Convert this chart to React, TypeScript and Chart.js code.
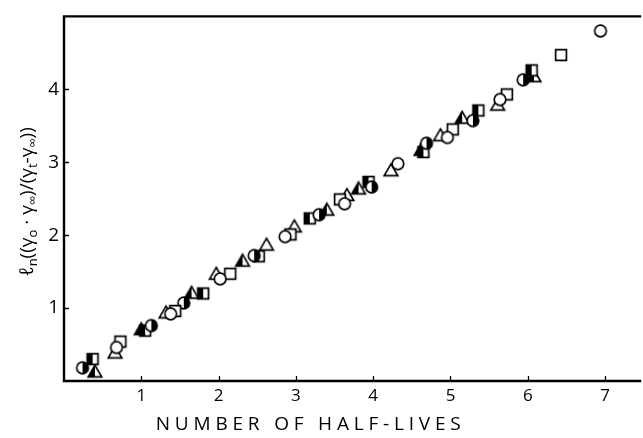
import React, { useEffect, useRef } from 'react';
import { Chart, registerables } from 'chart.js';

Chart.register(...registerables);

// Axis ticks and ranges
const X_TICKS = [1, 2, 3, 4, 5, 6, 7];
const Y_TICKS = [1, 2, 3, 4];
const X_MIN = 0;
const X_MAX = 7.4;
const Y_MIN = 0;
const Y_MAX = 5;

const X_TITLE = 'NUMBER OF HALF-LIVES';

// Open circles
const openCircleX = [0.68, 1.38, 2.02, 2.86, 3.63, 4.32, 4.96, 5.64, 6.94];
const openCircleY = [0.46, 0.92, 1.4, 1.98, 2.43, 2.98, 3.34, 3.86, 4.8];

// Open squares
const openSquareX = [0.73, 1.44, 2.15, 2.93, 3.57, 5.03, 5.73, 6.43];
const openSquareY = [0.54, 0.96, 1.47, 2.01, 2.49, 3.45, 3.93, 4.47];

// Open triangles
const openTriangleX = [0.66, 1.32, 1.97, 2.62, 2.98, 3.66, 4.23, 4.87, 5.61];
const openTriangleY = [0.39, 0.94, 1.47, 1.87, 2.12, 2.55, 2.89, 3.37, 3.79];

// Half-filled circles
const halfCircleX = [0.24, 1.13, 1.55, 2.46, 3.3, 3.98, 4.69, 5.29, 5.94];
const halfCircleY = [0.18, 0.76, 1.07, 1.72, 2.28, 2.66, 3.26, 3.57, 4.13];

// Half-filled squares
const halfSquareX = [0.37, 1.05, 1.8, 2.52, 3.18, 3.94, 4.65, 5.36, 6.05];
const halfSquareY = [0.3, 0.69, 1.2, 1.71, 2.23, 2.73, 3.14, 3.71, 4.26];

// Half-filled triangles
const halfTriangleX = [0.4, 1.0, 1.65, 2.31, 3.4, 3.81, 4.62, 5.15, 6.08];
const halfTriangleY = [0.13, 0.71, 1.21, 1.65, 2.35, 2.64, 3.17, 3.61, 4.18];

const FONT = '"Open Sans", "DejaVu Sans", sans-serif';

type Kind = 'circle' | 'square' | 'triangle';
type Half = 'none' | 'left' | 'right';

function makeMarker(kind: Kind, half: Half): HTMLCanvasElement {
  const size = 18;
  const c = size / 2;
  const cv = document.createElement('canvas');
  cv.width = size;
  cv.height = size;
  const ctx = cv.getContext('2d')!;
  const path = new Path2D();
  if (kind === 'circle') {
    path.arc(c, c, 5.8, 0, Math.PI * 2);
  } else if (kind === 'square') {
    path.rect(c - 5.4, c - 5.4, 10.8, 10.8);
  } else {
    path.moveTo(c, c - 6.4);
    path.lineTo(c + 6.8, c + 5.3);
    path.lineTo(c - 6.8, c + 5.3);
    path.closePath();
  }
  ctx.fillStyle = '#fff';
  ctx.fill(path);
  if (half !== 'none') {
    ctx.save();
    ctx.beginPath();
    if (half === 'left') ctx.rect(0, 0, c, size);
    else ctx.rect(c, 0, c, size);
    ctx.clip();
    ctx.fillStyle = '#000';
    ctx.fill(path);
    ctx.restore();
  }
  ctx.strokeStyle = '#000';
  ctx.lineWidth = 1.7;
  ctx.lineJoin = 'miter';
  ctx.stroke(path);
  return cv;
}

function zip(xs: number[], ys: number[]) {
  return xs.map((x, i) => ({ x, y: ys[i] }));
}

// Frame, inward tick marks and axis titles
const framePlugin = {
  id: 'frame',
  afterDraw(chart: any) {
    const { ctx, chartArea: a, scales } = chart;
    ctx.save();
    ctx.strokeStyle = '#000';
    ctx.lineWidth = 2.4;
    ctx.lineCap = 'square';
    ctx.beginPath();
    ctx.moveTo(a.right + 4, a.top);
    ctx.lineTo(a.left, a.top);
    ctx.lineTo(a.left, a.bottom);
    ctx.lineTo(a.right + 4, a.bottom);
    ctx.stroke();

    ctx.lineWidth = 1.3;
    ctx.lineCap = 'butt';
    ctx.beginPath();
    for (const v of X_TICKS) {
      const px = Math.round(scales.x.getPixelForValue(v)) + 0.5;
      ctx.moveTo(px, a.bottom);
      ctx.lineTo(px, a.bottom - 5);
    }
    for (const v of Y_TICKS) {
      const py = Math.round(scales.y.getPixelForValue(v)) + 0.5;
      ctx.moveTo(a.left, py);
      ctx.lineTo(a.left + 5, py);
    }
    ctx.stroke();

    // x-axis title
    ctx.fillStyle = '#000';
    ctx.font = `400 19px ${FONT}`;
    ctx.textBaseline = 'middle';
    ctx.textAlign = 'center';
    const target = 305;
    (ctx as any).letterSpacing = '0px';
    const w0 = ctx.measureText(X_TITLE).width;
    const sp = Math.max(0, (target - w0) / (X_TITLE.length - 1));
    (ctx as any).letterSpacing = `${sp}px`;
    const cx = a.left + (a.right - a.left) * 0.427 + sp / 2;
    ctx.fillText(X_TITLE, cx, 425);
    (ctx as any).letterSpacing = '0px';

    // y-axis title with subscripts
    const segs: { t: string; sub?: boolean }[] = [
      { t: 'ℓ' }, { t: 'n', sub: true }, { t: '((' }, { t: 'γ' }, { t: 'o', sub: true },
      { t: ' · ' }, { t: 'γ' }, { t: '∞', sub: true }, { t: ')/(' }, { t: 'γ' },
      { t: 't', sub: true }, { t: '-' }, { t: 'γ' }, { t: '∞', sub: true }, { t: '))' },
    ];
    const mainFont = `400 19px ${FONT}`;
    const subFont = `400 13px ${FONT}`;
    let total = 0;
    const widths = segs.map((s) => {
      ctx.font = s.sub ? subFont : mainFont;
      const w = ctx.measureText(s.t).width;
      total += w;
      return w;
    });
    const ty = (a.top + a.bottom) / 2 + 3;
    ctx.translate(28, ty);
    ctx.rotate(-Math.PI / 2);
    ctx.textAlign = 'left';
    ctx.textBaseline = 'middle';
    let x = -total / 2;
    segs.forEach((s, i) => {
      ctx.font = s.sub ? subFont : mainFont;
      ctx.fillText(s.t, x, s.sub ? 5 : 0);
      x += widths[i];
    });
    ctx.restore();
  },
};

export default function App() {
  const ref = useRef<HTMLCanvasElement | null>(null);

  useEffect(() => {
    document.body.style.margin = '0';
    const canvas = ref.current;
    if (!canvas) return;

    const mk = (label: string, xs: number[], ys: number[], kind: Kind, half: Half) => ({
      label,
      data: zip(xs, ys),
      pointStyle: makeMarker(kind, half),
      pointRadius: 6,
      pointHoverRadius: 6,
      showLine: false,
    });

    const chart = new Chart(canvas, {
      type: 'scatter',
      data: {
        datasets: [
          mk('open circle', openCircleX, openCircleY, 'circle', 'none'),
          mk('open square', openSquareX, openSquareY, 'square', 'none'),
          mk('open triangle', openTriangleX, openTriangleY, 'triangle', 'none'),
          mk('half circle', halfCircleX, halfCircleY, 'circle', 'right'),
          mk('half square', halfSquareX, halfSquareY, 'square', 'left'),
          mk('half triangle', halfTriangleX, halfTriangleY, 'triangle', 'left'),
        ],
      },
      options: {
        animation: false,
        responsive: false,
        maintainAspectRatio: false,
        events: [],
        layout: { padding: { top: 13, right: 0, left: 0, bottom: 0 } },
        plugins: {
          legend: { display: false },
          tooltip: { enabled: false },
          title: { display: false },
        },
        scales: {
          x: {
            type: 'linear',
            min: X_MIN,
            max: X_MAX,
            border: { display: false },
            grid: { display: false, drawTicks: false },
            ticks: {
              stepSize: 1,
              includeBounds: false,
              autoSkip: false,
              maxRotation: 0,
              padding: 5,
              color: '#000',
              font: { family: FONT, size: 17, weight: '400' as any },
              callback: (v: any) => (Number.isInteger(v) && X_TICKS.includes(v) ? String(v) : ''),
            },
            afterFit: (s: any) => {
              s.height = 57;
            },
          },
          y: {
            type: 'linear',
            min: Y_MIN,
            max: Y_MAX,
            border: { display: false },
            grid: { display: false, drawTicks: false },
            ticks: {
              stepSize: 1,
              includeBounds: false,
              autoSkip: false,
              padding: 5,
              color: '#000',
              font: { family: FONT, size: 19, weight: '400' as any },
              callback: (v: any) => (Number.isInteger(v) && Y_TICKS.includes(v) ? String(v) : ''),
            },
            afterFit: (s: any) => {
              s.width = 64;
            },
          },
        },
      },
      plugins: [framePlugin],
    });

    return () => chart.destroy();
  }, []);

  return (
    <div style={{ position: 'absolute', left: 0, top: 0, width: 643, height: 438, background: '#fff' }}>
      <canvas ref={ref} width={643} height={438} style={{ display: 'block' }} />
    </div>
  );
}
